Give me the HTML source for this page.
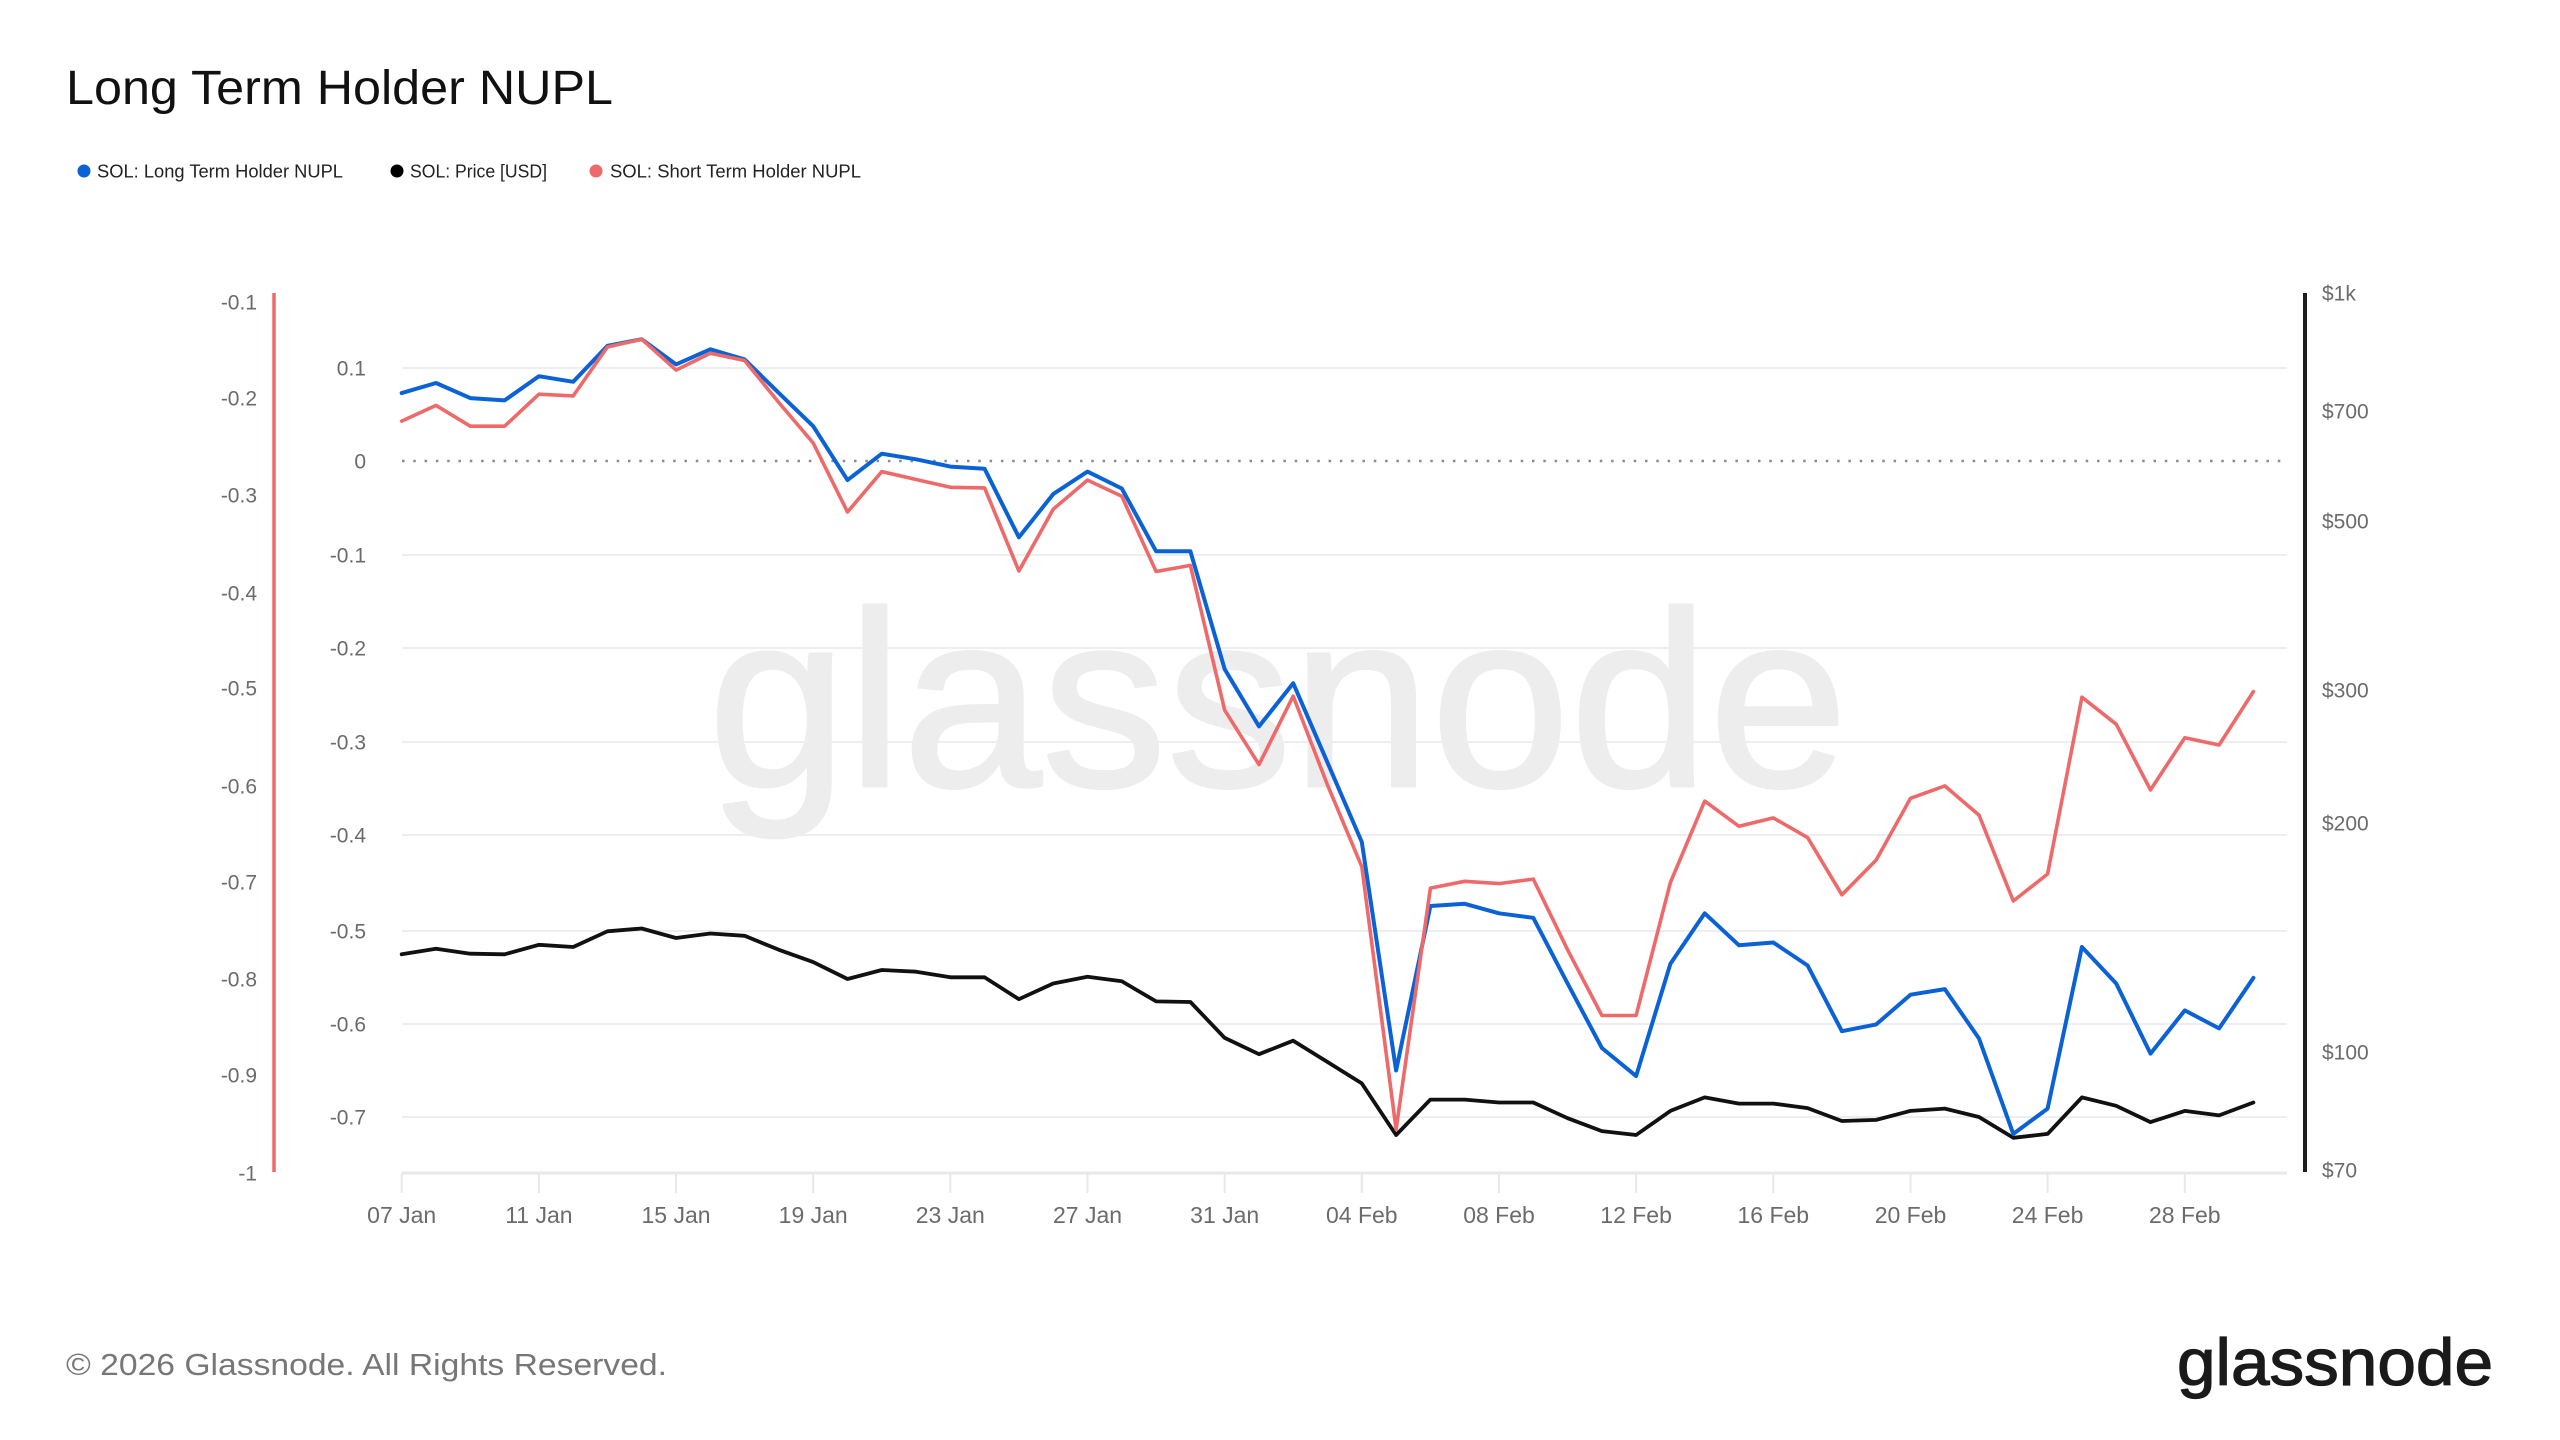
<!DOCTYPE html>
<html>
<head>
<meta charset="utf-8">
<style>
  html,body{margin:0;padding:0;background:#fff;}
  svg{display:block;}
  text{font-family:"Liberation Sans",Arial,sans-serif;}
</style>
</head>
<body>
<svg width="2560" height="1440" viewBox="0 0 2560 1440" xmlns="http://www.w3.org/2000/svg">
  <rect x="0" y="0" width="2560" height="1440" fill="#ffffff"/>

  <!-- Title -->
  <text x="66" y="104" font-size="48" fill="#111" textLength="547" lengthAdjust="spacingAndGlyphs">Long Term Holder NUPL</text>

  <!-- Legend -->
  <circle cx="84" cy="171" r="6.5" fill="#0b62d6"/>
  <text x="97" y="177.5" font-size="18.5" fill="#222" textLength="246" lengthAdjust="spacingAndGlyphs">SOL: Long Term Holder NUPL</text>
  <circle cx="397" cy="171" r="6.5" fill="#000"/>
  <text x="410" y="177.5" font-size="18.5" fill="#222" textLength="137" lengthAdjust="spacingAndGlyphs">SOL: Price [USD]</text>
  <circle cx="596" cy="171" r="6.5" fill="#ee6a6a"/>
  <text x="610" y="177.5" font-size="18.5" fill="#222" textLength="251" lengthAdjust="spacingAndGlyphs">SOL: Short Term Holder NUPL</text>

  <!-- Watermark -->
  <text x="708" y="786" font-size="250" fill="#ededed" stroke="#ededed" stroke-width="3" stroke-linejoin="round" textLength="1140" lengthAdjust="spacingAndGlyphs">glassnode</text>

  <!-- Gridlines -->
  <g stroke="#eceef2" stroke-width="2">
    <line x1="402" y1="368" x2="2287" y2="368"/>
    <line x1="402" y1="555" x2="2287" y2="555"/>
    <line x1="402" y1="648" x2="2287" y2="648"/>
    <line x1="402" y1="742" x2="2287" y2="742"/>
    <line x1="402" y1="835" x2="2287" y2="835"/>
    <line x1="402" y1="931" x2="2287" y2="931"/>
    <line x1="402" y1="1024" x2="2287" y2="1024"/>
    <line x1="402" y1="1117" x2="2287" y2="1117"/>
  </g>
  <!-- zero dotted -->
  <line x1="402" y1="461" x2="2287" y2="461" stroke="#8a8a8a" stroke-width="2.5" stroke-dasharray="2.5 8.8"/>

  <!-- X axis -->
  <line x1="402" y1="1173" x2="2287" y2="1173" stroke="#e5e8ed" stroke-width="3"/>
  <g stroke="#e5e8ed" stroke-width="2">
    <line x1="401.7" y1="1173" x2="401.7" y2="1193"/>
    <line x1="538.9" y1="1173" x2="538.9" y2="1193"/>
    <line x1="676.0" y1="1173" x2="676.0" y2="1193"/>
    <line x1="813.2" y1="1173" x2="813.2" y2="1193"/>
    <line x1="950.3" y1="1173" x2="950.3" y2="1193"/>
    <line x1="1087.5" y1="1173" x2="1087.5" y2="1193"/>
    <line x1="1224.7" y1="1173" x2="1224.7" y2="1193"/>
    <line x1="1361.8" y1="1173" x2="1361.8" y2="1193"/>
    <line x1="1499.0" y1="1173" x2="1499.0" y2="1193"/>
    <line x1="1636.1" y1="1173" x2="1636.1" y2="1193"/>
    <line x1="1773.3" y1="1173" x2="1773.3" y2="1193"/>
    <line x1="1910.5" y1="1173" x2="1910.5" y2="1193"/>
    <line x1="2047.6" y1="1173" x2="2047.6" y2="1193"/>
    <line x1="2184.8" y1="1173" x2="2184.8" y2="1193"/>
  </g>
  <g font-size="23" fill="#6b6b6b" text-anchor="middle">
    <text x="401.7" y="1223">07 Jan</text>
    <text x="538.9" y="1223">11 Jan</text>
    <text x="676.0" y="1223">15 Jan</text>
    <text x="813.2" y="1223">19 Jan</text>
    <text x="950.3" y="1223">23 Jan</text>
    <text x="1087.5" y="1223">27 Jan</text>
    <text x="1224.7" y="1223">31 Jan</text>
    <text x="1361.8" y="1223">04 Feb</text>
    <text x="1499.0" y="1223">08 Feb</text>
    <text x="1636.1" y="1223">12 Feb</text>
    <text x="1773.3" y="1223">16 Feb</text>
    <text x="1910.5" y="1223">20 Feb</text>
    <text x="2047.6" y="1223">24 Feb</text>
    <text x="2184.8" y="1223">28 Feb</text>
  </g>

  <!-- Inner Y axis labels (LTH) -->
  <g font-size="21" fill="#6b6b6b" text-anchor="end">
    <text x="366" y="375.5">0.1</text>
    <text x="366" y="468.5">0</text>
    <text x="366" y="562.5">-0.1</text>
    <text x="366" y="655.5">-0.2</text>
    <text x="366" y="749.5">-0.3</text>
    <text x="366" y="842.5">-0.4</text>
    <text x="366" y="938.5">-0.5</text>
    <text x="366" y="1031.5">-0.6</text>
    <text x="366" y="1124.5">-0.7</text>
  </g>

  <!-- Outer Y axis labels (STH) -->
  <line x1="274" y1="293" x2="274" y2="1172" stroke="#ee6a6a" stroke-width="3.5"/>
  <g font-size="21" fill="#6b6b6b" text-anchor="end">
    <text x="257" y="309.5">-0.1</text>
    <text x="257" y="405.5">-0.2</text>
    <text x="257" y="502.5">-0.3</text>
    <text x="257" y="600.5">-0.4</text>
    <text x="257" y="695.5">-0.5</text>
    <text x="257" y="793.5">-0.6</text>
    <text x="257" y="889.5">-0.7</text>
    <text x="257" y="986.5">-0.8</text>
    <text x="257" y="1082.5">-0.9</text>
    <text x="257" y="1180.5">-1</text>
  </g>

  <!-- Right Y axis (price) -->
  <line x1="2305" y1="293" x2="2305" y2="1172" stroke="#1e1e1e" stroke-width="4"/>
  <g font-size="21" fill="#6b6b6b" text-anchor="start">
    <text x="2322" y="300.5">$1k</text>
    <text x="2322" y="418.5">$700</text>
    <text x="2322" y="528.5">$500</text>
    <text x="2322" y="697.5">$300</text>
    <text x="2322" y="830.5">$200</text>
    <text x="2322" y="1059.5">$100</text>
    <text x="2322" y="1177.5">$70</text>
  </g>

  <!-- Price (black) -->
  <polyline fill="none" stroke="#111" stroke-width="3.8" stroke-linejoin="round" stroke-linecap="round" points="
401.7,954.3 436.0,948.7 470.3,953.7 504.6,954.3 538.9,944.8 573.2,947.0 607.4,931.3 641.7,928.5 676.0,938.0 710.3,933.5
744.6,935.8 778.9,949.8 813.2,962.1 847.5,979.0 881.8,970.0 916.1,971.7 950.3,977.3 984.6,977.3 1018.9,999.2 1053.2,983.5
1087.5,976.7 1121.8,981.2 1156.1,1001.4 1190.4,1002.0 1224.7,1037.9 1259.0,1054.2 1293.2,1040.7 1327.5,1062 1361.8,1083.4 1396.1,1135.0
1430.4,1099.6 1464.7,1099.6 1499.0,1102.5 1533.3,1102.5 1567.6,1118.2 1601.9,1131.1 1636.1,1135.0 1670.4,1110.9 1704.7,1097.4 1739.0,1103.6
1773.3,1103.6 1807.6,1108.1 1841.9,1121.0 1876.2,1119.9 1910.5,1110.9 1944.8,1108.6 1979.0,1117.0 2013.3,1137.8 2047.6,1133.9 2081.9,1097.4
2116.2,1105.8 2150.5,1122.1 2184.8,1110.9 2219.1,1115.4 2253.4,1102.5"/>

  <!-- LTH NUPL (blue) -->
  <polyline fill="none" stroke="#0b62d6" stroke-width="4" stroke-linejoin="round" stroke-linecap="round" points="
401.7,393.1 436.0,383.0 470.3,398.1 504.6,400.4 538.9,376.2 573.2,381.8 607.4,345.9 641.7,339.2 676.0,364.4 710.3,349.3
744.6,359.4 778.9,393.1 813.2,426.2 847.5,480.1 881.8,453.7 916.1,459.3 950.3,466.6 984.6,468.8 1018.9,537.3 1053.2,494.1
1087.5,471.6 1121.8,488.5 1156.1,551.3 1190.4,551.3 1224.7,669.2 1259.0,726.4 1293.2,683.2 1327.5,762.6 1361.8,842.0 1396.1,1070.5
1430.4,906.0 1464.7,903.8 1499.0,913.3 1533.3,917.8 1567.6,983.5 1601.9,1048.0 1636.1,1076.1 1670.4,963.8 1704.7,913.3 1739.0,945.3
1773.3,942.5 1807.6,965.5 1841.9,1031.2 1876.2,1024.4 1910.5,994.7 1944.8,989.1 1979.0,1038.5 2013.3,1133.9 2047.6,1108.6 2081.9,947.0
2116.2,983.5 2150.5,1053.6 2184.8,1010.4 2219.1,1028.4 2253.4,977.9"/>

  <!-- STH NUPL (red) -->
  <polyline fill="none" stroke="#ee6a6a" stroke-width="3.6" stroke-linejoin="round" stroke-linecap="round" points="
401.7,421.1 436.0,405.4 470.3,426.2 504.6,426.2 538.9,394.2 573.2,395.9 607.4,347.0 641.7,339.2 676.0,370.1 710.3,353.2
744.6,360.5 778.9,402.6 813.2,443.0 847.5,512.0 881.8,471.6 916.1,479.5 950.3,487.3 984.6,487.9 1018.9,571.0 1053.2,509.2
1087.5,480.1 1121.8,496.3 1156.1,571.5 1190.4,565.4 1224.7,710.2 1259.0,764.6 1293.2,696.1 1327.5,785 1361.8,866.7 1396.1,1129.4
1430.4,888.1 1464.7,881.3 1499.0,883.6 1533.3,879.1 1567.6,949.8 1601.9,1015.5 1636.1,1015.5 1670.4,882.5 1704.7,801.1 1739.0,826.3
1773.3,817.9 1807.6,837.6 1841.9,894.8 1876.2,860.0 1910.5,798.3 1944.8,785.9 1979.0,815.1 2013.3,901.0 2047.6,874.0 2081.9,697.2
2116.2,724.2 2150.5,789.9 2184.8,737.7 2219.1,745.0 2253.4,691.6"/>

  <!-- Footer -->
  <text x="66" y="1375" font-size="31" fill="#777" textLength="601" lengthAdjust="spacingAndGlyphs">© 2026 Glassnode. All Rights Reserved.</text>
  <text x="2177" y="1385" font-size="66" fill="#1a1a1a" stroke="#1a1a1a" stroke-width="1.2" textLength="316" lengthAdjust="spacingAndGlyphs">glassnode</text>
</svg>
</body>
</html>
